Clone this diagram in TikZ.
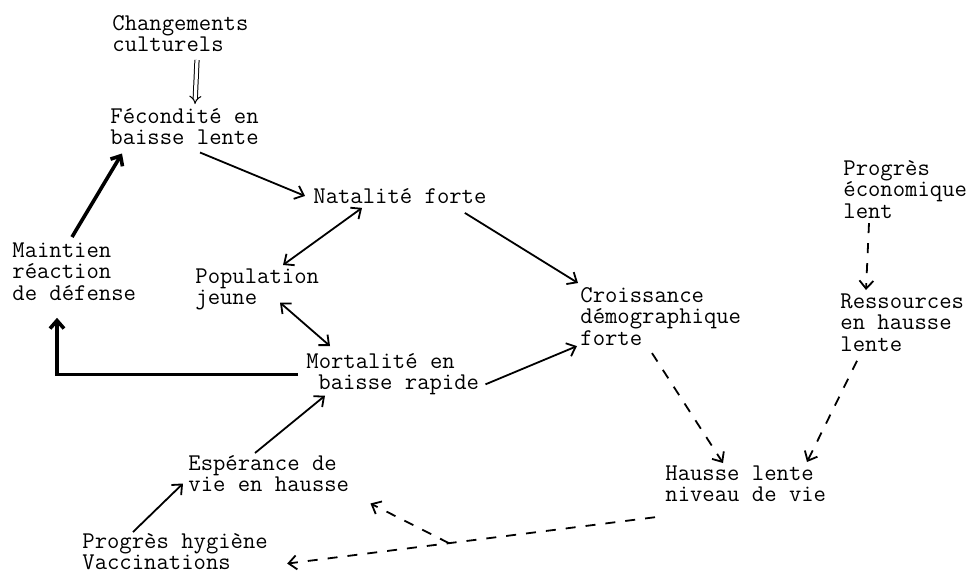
\documentclass[tikz,border=0pt]{standalone}
\usepackage{fontspec}
\usetikzlibrary{arrows.meta,calc}
\tikzset{
  txt/.style={anchor=north west,inner sep=0pt,align=left,font=\ttfamily\fontsize{12}{10.8}\selectfont},
  >={Straight Barb[length=4pt,width=7pt]},
  arr/.style={->,line width=0.9pt},
  dsh/.style={arr,dash pattern=on 5pt off 5pt},
}
\begin{document}
\begin{tikzpicture}[x=0.5pt,y=-0.5pt]
    \useasboundingbox (0,0) rectangle (970,575);
    \node[txt] (cult)  at (112,15)  {Changements\\culturels};
    \node[txt] (fec)   at (110,108) {Fécondité en\\baisse lente};
    \node[txt] (nat)   at (313,188) {Natalité forte};
    \node[txt] (maint) at (12,242)  {Maintien\\réaction\\de défense};
    \node[txt] (pop)   at (195,268) {Population\\jeune};
    \node[txt] (crois) at (580,287) {Croissance\\démographique\\forte};
    \node[txt] (peco)  at (843,160) {Progrès\\économique\\lent};
    \node[txt] (ress)  at (840,293) {Ressources\\en hausse\\lente};
    \node[txt] (mort)  at (306,353) {Mortalité en\\\hspace*{6pt}baisse rapide};
    \node[txt] (esp)   at (188,455) {Espérance de\\vie en hausse};
    \node[txt] (haus)  at (665,465) {Hausse lente\\niveau de vie};
    \node[txt] (hyg)   at (82,533)  {Progrès hygiène\\Vaccinations};
    % solid links
    \draw [double,double distance=1.6pt,line width=0.5pt,-{Implies}] ($(cult.south west)+(85,7.5)$) -- ($(fec.north west)+(85,-4)$);
    \draw [arr] ($(fec.south west)+(90,7)$) -- ($(nat.west)+(-8,0)$);
    \draw [arr,line width=1.8pt] ($(maint.north west)+(60,-5)$) -- ($(fec.south west)+(12,8)$);
    \draw [arr,<->] ($(nat.south west)+(49,4)$) -- ($(pop.north west)+(88,-3)$);
    \draw [arr] ($(nat.south east)+(-22,9)$) -- ($(crois.north west)+(-2,-4)$);
    \draw [arr,<->] ($(pop.south west)+(85,-8)$) -- ($(mort.north west)+(24,-7)$);
    \draw [arr,line width=1.8pt] ($(mort.west)+(-8,0)$) -| ($(maint.south west)+(45,17)$);
    \draw [arr] ($(mort.east)+(6,10)$) -- ($(crois.south west)+(-3,0)$);
    \draw [arr] ($(esp.north west)+(67,-2)$) -- ($(mort.south west)+(19,0)$);
    \draw [arr] ($(hyg.north west)+(51,-1)$) -- ($(esp.south west)+(-5,-9)$);
    % dashed links
    \draw [dsh] ($(crois.south west)+(72,7)$) -- ($(haus.north west)+(58,-2)$);
    \draw [dsh] ($(peco.south west)+(26,4)$) -- ($(ress.north west)+(26,-3)$);
    \draw [dsh] ($(ress.south west)+(17,9)$) -- ($(haus.north west)+(142,-3)$);
    \draw [dsh] ($(haus.south west)+(-10,15)$) -- coordinate[pos=0.56] (fork) ($(hyg.south east)+(19,-7)$);
    \draw [dsh] (fork) -- ($(esp.south east)+(21,11)$);
\end{tikzpicture}
\end{document}
